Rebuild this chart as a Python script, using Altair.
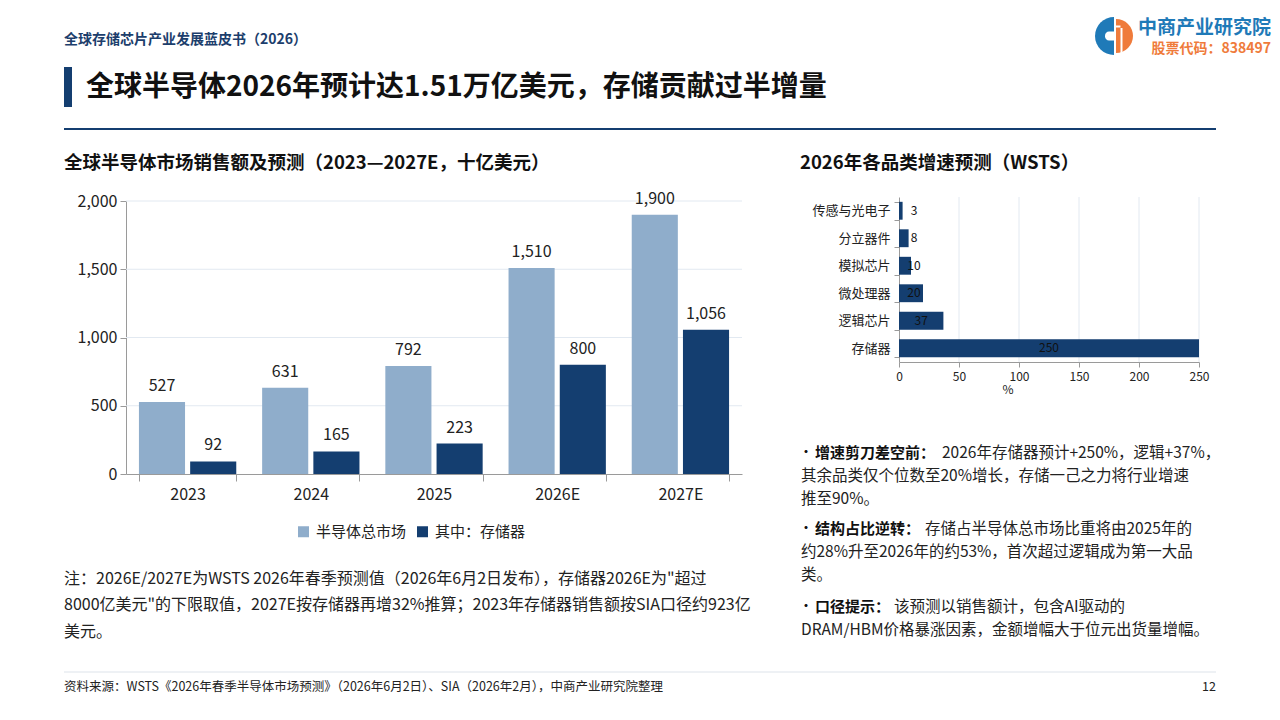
import altair as alt
import pandas as pd

# ---------------- data ----------------
years = ["2023", "2024", "2025", "2026E", "2027E"]
total_market = [527, 631, 792, 1510, 1900]
memory_market = [92, 165, 223, 800, 1056]
series_names = ["半导体总市场", "其中：存储器"]
left_ticks = [0, 500, 1000, 1500, 2000]

categories = ["传感与光电子", "分立器件", "模拟芯片", "微处理器", "逻辑芯片", "存储器"]
growth = [3, 8, 10, 20, 37, 250]
right_ticks = [0, 50, 100, 150, 200, 250]

header_small = "全球存储芯片产业发展蓝皮书（2026）"
main_title = "全球半导体2026年预计达1.51万亿美元，存储贡献过半增量"
logo_name = "中商产业研究院"
logo_code = "股票代码：838497"
left_subtitle = "全球半导体市场销售额及预测（2023—2027E，十亿美元）"
right_subtitle = "2026年各品类增速预测（WSTS）"
note_lines = [
    "注：2026E/2027E为WSTS 2026年春季预测值（2026年6月2日发布），存储器2026E为\"超过",
    "8000亿美元\"的下限取值，2027E按存储器再增32%推算；2023年存储器销售额按SIA口径约923亿",
    "美元。",
]
bullet_heads = ["增速剪刀差空前：", "结构占比逆转：", "口径提示："]
bullet_first = [
    "2026年存储器预计+250%，逻辑+37%，",
    "存储占半导体总市场比重将由2025年的",
    "该预测以销售额计，包含AI驱动的",
]
bullet_rest = [
    ["其余品类仅个位数至20%增长，存储一己之力将行业增速", "推至90%。"],
    ["约28%升至2026年的约53%，首次超过逻辑成为第一大品", "类。"],
    ["DRAM/HBM价格暴涨因素，金额增幅大于位元出货量增幅。"],
]
source_text = "资料来源：WSTS《2026年春季半导体市场预测》（2026年6月2日）、SIA（2026年2月），中商产业研究院整理"
page_no = "12"

# ---------------- style ----------------
W, H = 1264, 696
FONT = "Noto Sans CJK SC"
NAVY = "#143e70"
LIGHT = "#8fadcb"
HEAD = "#1c3e6c"
GRID = "#e2e9f1"
AXIS = "#9a9a9a"
TXT = "#222222"
BLUE = "#1f7ab8"
ORANGE = "#ef7b3b"

base = alt.Chart(pd.DataFrame({"d": [0]}))


def txt(s, x, y, size, weight="normal", color=TXT, align="left", baseline="middle"):
    return base.mark_text(
        text=s, fontSize=size, fontWeight=weight, color=color,
        align=align, baseline=baseline, font=FONT,
    ).encode(x=alt.value(x), y=alt.value(y))


# ---------------- left grouped bar chart ----------------
left_df = pd.DataFrame({
    "year": years * 2,
    "series": [series_names[0]] * len(years) + [series_names[1]] * len(years),
    "value": total_market + memory_market,
})
LX0, LX1, LY0, LY1 = 118, 734, 466, 193

xL = alt.X(
    "year:N", sort=years,
    scale=alt.Scale(domain=years, range=[LX0, LX1], paddingInner=0.21, paddingOuter=0.105),
    axis=alt.Axis(orient="bottom", offset=LY0 - H, title=None, labelAngle=0,
                  domainColor=AXIS, tickColor=AXIS, tickSize=7, tickBand="extent",
                  labelFontSize=16, labelColor=TXT, labelPadding=5, grid=False),
)
yL = alt.Y(
    "value:Q",
    scale=alt.Scale(domain=[0, 2000], range=[LY0, LY1], nice=False, zero=True),
    axis=alt.Axis(orient="left", offset=-LX0, values=left_ticks, format=",d", title=None,
                  grid=False, domainColor=AXIS, tickColor=AXIS, tickSize=6,
                  labelFontSize=16, labelColor=TXT, labelPadding=3),
)
xoL = alt.XOffset("series:N", sort=series_names,
                  scale=alt.Scale(domain=series_names, paddingInner=0.1))
colorL = alt.Color(
    "series:N", sort=series_names,
    scale=alt.Scale(domain=series_names, range=[LIGHT, NAVY]),
    legend=alt.Legend(orient="none", legendX=288, legendY=516, direction="horizontal",
                      title=None, symbolType="square", symbolSize=121, symbolStrokeWidth=0,
                      labelFontSize=15, labelColor=TXT, labelOffset=5, columnPadding=8),
)

left_grid = alt.Chart(pd.DataFrame({"value": left_ticks[1:]})).mark_rule(
    color=GRID, strokeWidth=1).encode(y=yL, x=alt.value(LX0), x2=alt.value(LX1))
left_bars = alt.Chart(left_df).mark_bar().encode(x=xL, y=yL, xOffset=xoL, color=colorL)
left_labels = alt.Chart(left_df).mark_text(
    dy=-11, baseline="alphabetic", fontSize=16, color=TXT, font=FONT
).encode(x=xL, y=yL, xOffset=xoL, text=alt.Text("value:Q", format=","))
left_chart = alt.layer(left_grid, left_bars, left_labels)

# ---------------- right horizontal bar chart ----------------
right_df = pd.DataFrame({"cat": categories, "growth": growth})
RX0, RX1, RY0, RY1 = 891, 1191, 189, 354

xR = alt.X(
    "growth:Q",
    scale=alt.Scale(domain=[0, 250], range=[RX0, RX1], nice=False),
    axis=alt.Axis(orient="bottom", offset=RY1 - H, values=right_ticks, title=None, grid=False,
                  domainColor=AXIS, tickColor=AXIS, tickSize=5, labelFontSize=12,
                  labelColor=TXT, labelPadding=4, labelFlush=False),
)
yR = alt.Y(
    "cat:N", sort=categories,
    scale=alt.Scale(domain=categories, range=[RY0, RY1], paddingInner=0.35, paddingOuter=0.175),
    axis=alt.Axis(orient="left", offset=-RX0, title=None, tickBand="extent",
                  domainColor=AXIS, tickColor=AXIS, tickSize=5, labelFontSize=13,
                  labelColor=TXT, labelPadding=4),
)
right_grid = alt.Chart(pd.DataFrame({"growth": right_ticks[1:]})).mark_rule(
    color=GRID, strokeWidth=1).encode(x=xR, y=alt.value(RY0), y2=alt.value(RY1))
right_bars = alt.Chart(right_df).mark_bar(color=NAVY).encode(x=xR, y=yR)
right_labels = alt.Chart(right_df).transform_calculate(
    label="format(datum.growth, 'd')"
).transform_calculate(
    growth="max(datum.growth / 2, 12.5)"
).mark_text(fontSize=12, color="#111111", font=FONT, baseline="middle").encode(
    x=xR, y=yR, text=alt.Text("label:N"))
right_chart = alt.layer(right_grid, right_bars, right_labels)

# ---------------- decorations & texts ----------------
deco = [
    txt(header_small, 56, 32, 14, "bold", HEAD),
    base.mark_rect(color=NAVY).encode(x=alt.value(56), x2=alt.value(64),
                                      y=alt.value(59), y2=alt.value(99)),
    txt(main_title, 78, 80, 28, "bold", "#111111"),
    base.mark_rule(color=NAVY, strokeWidth=2).encode(x=alt.value(56), x2=alt.value(1208),
                                                     y=alt.value(121)),
    # logo
    base.mark_arc(color=BLUE, theta=3.1416, theta2=6.2832, radius=19, radius2=0).encode(
        x=alt.value(1106), y=alt.value(28)),
    base.mark_rect(color="white", cornerRadius=4).encode(
        x=alt.value(1097), x2=alt.value(1112), y=alt.value(23.5), y2=alt.value(32.5)),
    base.mark_arc(color=ORANGE, theta=0, theta2=3.1416, radius=17, radius2=0).encode(
        x=alt.value(1108), y=alt.value(28)),
    base.mark_rect(color="white").encode(
        x=alt.value(1112.5), x2=alt.value(1114.5), y=alt.value(20), y2=alt.value(46)),
    base.mark_rect(color="white").encode(
        x=alt.value(1106), x2=alt.value(1112.5), y=alt.value(17.5), y2=alt.value(19.5)),
    txt(logo_name, 1263, 19.5, 19, "bold", BLUE, align="right"),
    txt(logo_code, 1263, 40.5, 14, "bold", ORANGE, align="right"),
    # subtitles
    txt(left_subtitle, 56, 155, 18.5, "bold", "#111111"),
    txt(right_subtitle, 792, 155, 18.5, "bold", "#111111"),
    txt("%", 1000, 381.5, 12, color=TXT, align="center"),
    # footer
    base.mark_rule(color="#dde3ea", strokeWidth=1).encode(x=alt.value(56), x2=alt.value(1208),
                                                          y=alt.value(664)),
    txt(source_text, 56, 679, 12.5),
    txt(page_no, 1208, 679, 12.5, align="right"),
]

for i, line in enumerate(note_lines):
    deco.append(txt(line, 56, [571, 597, 624][i], 16))

first_y = [445, 521, 599]
head_x = [934, 917, 886]
for i in range(3):
    deco.append(txt("·", 798, first_y[i], 12, "bold", "#111111", align="center"))
    deco.append(txt(bullet_heads[i], 807, first_y[i], 15, "bold", "#111111"))
    deco.append(txt(bullet_first[i], head_x[i], first_y[i], 15.5))
    for j, line in enumerate(bullet_rest[i]):
        deco.append(txt(line, 793, first_y[i] + 23 * (j + 1), 15.5))

chart = alt.layer(left_chart, right_chart, *deco).resolve_scale(
    x="independent", y="independent", color="independent"
).properties(
    width=W, height=H, padding=0,
    autosize=alt.AutoSizeParams(type="none"),
    background="white",
).configure(font=FONT).configure_view(strokeWidth=0)

chart.save("out.html", embed_options={"renderer": "svg", "actions": False})
